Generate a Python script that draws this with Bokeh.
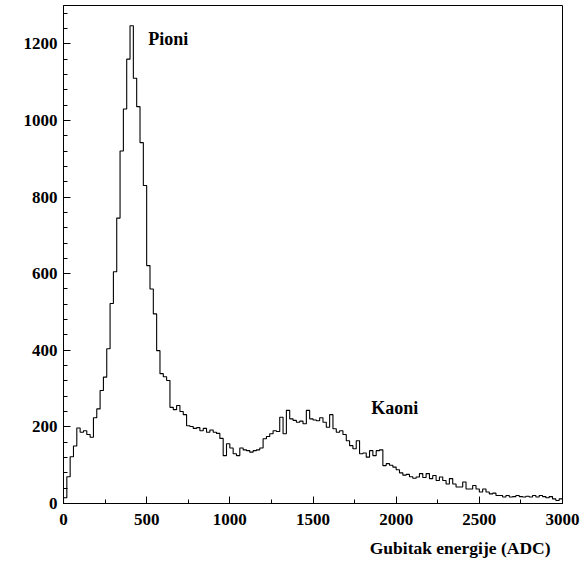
from bokeh.plotting import figure
from bokeh.models import Range1d, SingleIntervalTicker, Label, Title
from bokeh.embed import file_html
from bokeh.resources import INLINE

# Histogram of energy loss (ADC), bin width 20 ADC
bin_width = 20
counts = [
    15, 70, 122, 150, 197, 186, 190, 180, 173, 224,
    247, 295, 330, 404, 522, 605, 745, 920, 1030, 1160,
    1247, 1110, 1036, 942, 830, 621, 560, 495, 399, 339,
    331, 321, 251, 245, 256, 240, 232, 203, 201, 196,
    198, 190, 196, 186, 192, 186, 183, 170, 125, 156,
    145, 130, 125, 145, 140, 138, 134, 138, 140, 145,
    169, 175, 182, 190, 188, 225, 182, 243, 221, 217,
    212, 215, 208, 243, 221, 218, 216, 224, 212, 199,
    232, 195, 186, 190, 180, 164, 151, 143, 164, 130,
    132, 121, 138, 125, 138, 140, 99, 104, 100, 95,
    88, 80, 74, 76, 70, 66, 69, 78, 68, 78,
    65, 73, 60, 69, 60, 51, 65, 51, 43, 43,
    56, 38, 38, 47, 38, 30, 38, 30, 25, 27,
    21, 21, 17, 21, 17, 18, 21, 18, 17, 19,
    17, 21, 17, 21, 18, 15, 18, 12, 8, 12,
]

x_ticks_interval = 500
y_ticks_interval = 200
labels = ["Pioni", "Kaoni"]
label_x = [510, 1850]
label_y = [1213, 248]
x_title = "Gubitak energije (ADC)"

edges = [i * bin_width for i in range(len(counts) + 1)]
step_x = [edges[0]] + edges
step_y = [0] + counts + [counts[-1]]

FONT = "Liberation Serif"

p = figure(width=582, height=567, output_backend="svg", toolbar_location=None,
           x_range=Range1d(0, 3000), y_range=Range1d(0, 1300),
           min_border_left=63, min_border_right=20, min_border_top=5,
           min_border_bottom=64, background_fill_color="white",
           border_fill_color="white")

p.step(step_x, step_y, mode="after", line_color="black", line_width=1.1)

p.xgrid.visible = False
p.ygrid.visible = False
p.outline_line_color = "black"
p.outline_line_width = 1

p.xaxis.ticker = SingleIntervalTicker(interval=x_ticks_interval, num_minor_ticks=2)
p.yaxis.ticker = SingleIntervalTicker(interval=y_ticks_interval, num_minor_ticks=5)

for ax in (p.xaxis, p.yaxis):
    ax.major_tick_in = 7
    ax.major_tick_out = 0
    ax.minor_tick_in = 4
    ax.minor_tick_out = 0
    ax.axis_line_color = "black"
    ax.major_tick_line_color = "black"
    ax.minor_tick_line_color = "black"
    ax.major_label_text_font = FONT
    ax.major_label_text_font_style = "bold"
    ax.major_label_text_font_size = "17px"
    ax.major_label_text_color = "black"

p.yaxis.major_label_standoff = 6
p.xaxis.major_label_standoff = 10

for t, lx, ly in zip(labels, label_x, label_y):
    p.add_layout(Label(x=lx, y=ly, text=t, text_font=FONT, text_font_style="bold",
                       text_font_size="18px", text_color="black",
                       text_baseline="middle", text_align="left"))

p.add_layout(Title(text=x_title, align="right", text_font=FONT,
                   text_font_style="bold", text_font_size="17.5px",
                   text_color="black", offset=12, standoff=16), "below")

open("out.html", "w").write(file_html(p, INLINE))
